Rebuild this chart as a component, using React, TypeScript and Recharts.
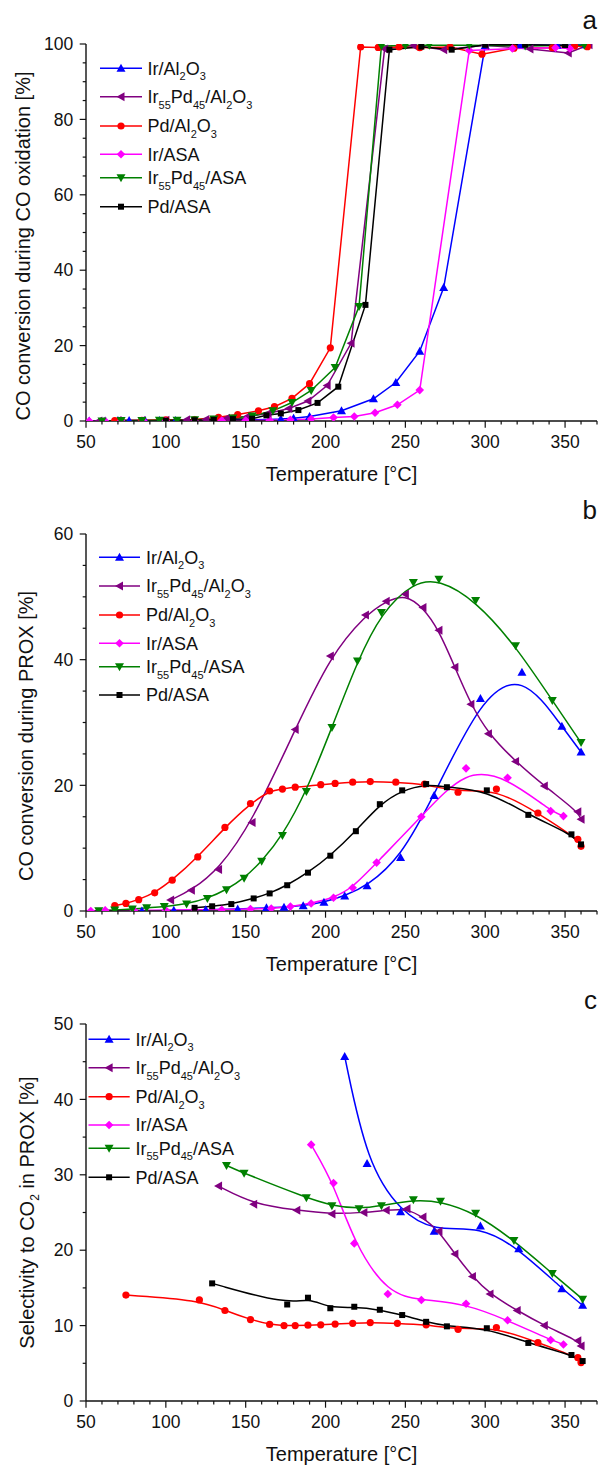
import React from "react";
import { LineChart, Line, XAxis, YAxis } from "recharts";

const FONT = "'Liberation Sans', Arial, sans-serif";
const W = 598;
const H = 490;
const INK = "#111";

const tempTicks = [50, 60, 70, 80, 90, 100, 110, 120, 130, 140, 150, 160, 170, 180, 190, 200, 210, 220, 230, 240, 250, 260, 270, 280, 290, 300, 310, 320, 330, 340, 350, 360, 370];
const ticksA = [0, 5, 10, 15, 20, 25, 30, 35, 40, 45, 50, 55, 60, 65, 70, 75, 80, 85, 90, 95, 100];
const ticksB = [0, 5, 10, 15, 20, 25, 30, 35, 40, 45, 50, 55, 60];
const ticksC = [0, 5, 10, 15, 20, 25, 30, 35, 40, 45, 50];

// --- a: CO oxidation ---
const aIrAlX = [52, 62, 70, 77, 87, 96, 106, 118, 130, 141, 153, 165, 172, 180, 190, 210, 230, 244, 259, 274, 300, 322, 345, 363];
const aIrAlY = [0, 0, 0.1, 0.1, 0.1, 0.1, 0.1, 0.2, 0.2, 0.3, 0.3, 0.4, 0.5, 0.7, 1.2, 2.7, 5.9, 10.2, 18.5, 35.4, 99.6, 99.8, 99.7, 99.8];
const aIrPdAlX = [58, 70, 85, 100, 113, 125, 138, 151, 164, 177, 189, 201, 216, 237, 255, 274, 300, 328, 352, 365];
const aIrPdAlY = [0, 0.1, 0.1, 0.2, 0.3, 0.4, 0.7, 1.2, 2.0, 3.3, 5.3, 9.4, 20.6, 98.7, 99.6, 98.5, 99.7, 98.7, 97.6, 99.8];
const aPdAlX = [68, 85, 100, 118, 133, 145, 158, 168, 179, 190, 203, 222, 233, 246, 259, 278, 298, 318, 342, 356, 364];
const aPdAlY = [0.1, 0.2, 0.3, 0.4, 1.0, 1.7, 2.7, 3.8, 6.0, 9.9, 19.4, 99.2, 99.1, 99.2, 99.0, 99.2, 97.3, 98.9, 99.0, 99.5, 99.3];
const aIrAsaX = [52, 62, 72, 86, 100, 118, 135, 150, 165, 178, 191, 205, 218, 231, 245, 259, 290, 317, 344, 353];
const aIrAsaY = [0, 0, 0, 0, 0, 0, 0.1, 0.1, 0.2, 0.3, 0.5, 0.9, 1.2, 2.2, 4.3, 8.2, 98.3, 98.8, 99.0, 98.8];
const aIrPdAsaX = [60, 72, 85, 96, 107, 118, 130, 142, 154, 167, 179, 191, 206, 221, 235, 250, 265, 290, 325, 362];
const aIrPdAsaY = [0, 0.1, 0.1, 0.2, 0.2, 0.3, 0.5, 0.8, 1.3, 2.7, 4.9, 8.1, 14.2, 30.4, 99.5, 99.6, 99.7, 99.7, 99.5, 99.7];
const aPdAsaX = [100, 118, 130, 142, 154, 163, 172, 183, 195, 208, 225, 240, 260, 279, 300, 325, 350];
const aPdAsaY = [0.1, 0.2, 0.3, 0.5, 0.6, 1.5, 2.0, 2.9, 4.8, 9.1, 30.8, 98.5, 99.3, 98.5, 99.8, 99.8, 99.7];

// --- b: CO conversion during PROX ---
const bIrAlX = [62, 85, 105, 125, 145, 163, 174, 186, 199, 212, 226, 247, 268, 297, 323, 348, 360];
const bIrAlY = [0, 0, 0.1, 0.2, 0.3, 0.5, 0.6, 0.85, 1.4, 2.4, 4.0, 8.5, 18.4, 33.8, 38.0, 29.4, 25.3];
const bIrPdAlX = [103, 116, 133, 154, 181, 203, 225, 238, 250, 261, 271, 281, 291, 302, 319, 337, 358, 360];
const bIrPdAlY = [1.75, 3.3, 6.6, 14.1, 28.9, 40.6, 47.1, 49.3, 50.4, 48.3, 44.7, 38.8, 32.9, 28.2, 23.8, 19.9, 15.8, 14.6];
const bPdAlX = [68, 75, 83, 93, 104, 120, 137, 153, 165, 173, 181, 197, 206, 217, 228, 244, 262, 283, 307, 333, 358, 360];
const bPdAlY = [0.85, 1.2, 1.8, 2.9, 4.9, 8.6, 13.3, 17.1, 19.1, 19.4, 19.7, 20.1, 20.3, 20.5, 20.6, 20.5, 20.2, 18.9, 19.4, 15.6, 11.4, 10.3];
const bIrAsaX = [53, 62, 80, 100, 118, 135, 153, 166, 178, 191, 205, 217, 232, 260, 288, 314, 341, 349];
const bIrAsaY = [0, 0.1, 0.1, 0.1, 0.2, 0.2, 0.3, 0.4, 0.7, 1.2, 2.1, 3.7, 7.7, 15.0, 22.7, 21.2, 15.9, 15.1];
const bIrPdAsaX = [58, 68, 79, 88, 99, 113, 126, 138, 149, 160, 173, 188, 204, 220, 235, 255, 271, 294, 319, 342, 360];
const bIrPdAsaY = [0.05, 0.15, 0.3, 0.5, 0.7, 1.1, 2.0, 3.4, 5.2, 7.9, 12.0, 19.0, 29.2, 39.8, 47.5, 52.3, 52.8, 49.4, 42.2, 33.5, 26.8];
const bPdAsaX = [118, 129, 141, 155, 165, 176, 189, 203, 219, 234, 248, 263, 276, 301, 327, 354, 360];
const bPdAsaY = [0.5, 0.75, 1.1, 2.0, 2.8, 4.1, 6.1, 8.8, 12.7, 17.0, 19.2, 20.2, 19.7, 19.2, 15.3, 12.2, 10.6];

// --- c: selectivity to CO2 ---
const cIrAlX = [212, 226, 247, 268, 297, 321, 348, 361];
const cIrAlY = [45.7, 31.5, 25.1, 22.5, 23.2, 20.2, 14.9, 12.7];
const cIrPdAlX = [133, 155, 182, 204, 224, 238, 251, 261, 271, 281, 292, 303, 320, 337, 358, 360];
const cIrPdAlY = [28.5, 26.1, 25.3, 24.8, 25.0, 25.3, 25.5, 24.4, 22.5, 19.5, 16.5, 14.2, 12.0, 10.0, 8.0, 7.3];
const cPdAlX = [75, 121, 137, 153, 165, 174, 181, 189, 197, 206, 217, 228, 245, 263, 283, 307, 333, 358, 360];
const cPdAlY = [14.05, 13.4, 12.0, 10.8, 10.15, 10.0, 10.0, 10.05, 10.1, 10.2, 10.3, 10.4, 10.3, 10.1, 9.5, 9.75, 7.75, 5.75, 5.1];
const cIrAsaX = [191, 205, 218, 239, 260, 288, 314, 341, 349];
const cIrAsaY = [34.0, 28.9, 20.9, 14.2, 13.4, 12.9, 10.7, 8.1, 7.5];
const cIrPdAsaX = [138, 149, 188, 204, 221, 235, 255, 272, 294, 318, 342, 361];
const cIrPdAsaY = [31.25, 30.2, 26.95, 25.9, 25.5, 25.9, 26.7, 26.5, 24.9, 21.3, 16.9, 13.5];
const cPdAsaX = [129, 176, 189, 203, 218, 234, 248, 263, 276, 301, 327, 354, 361];
const cPdAsaY = [15.6, 12.8, 13.7, 12.3, 12.5, 12.1, 11.4, 10.5, 9.9, 9.65, 7.7, 6.1, 5.3];

const names = ["Ir/Al2O3", "Ir55Pd45/Al2O3", "Pd/Al2O3", "Ir/ASA", "Ir55Pd45/ASA", "Pd/ASA"];
const colors = ["#0000ff", "#800080", "#ff0000", "#ff00ff", "#008000", "#000000"];
const shapes = ["up", "left", "circle", "diamond", "down", "square"];

// label pieces, s = subscript
const labelParts = [
  [{ t: "Ir/Al" }, { t: "2", s: 1 }, { t: "O" }, { t: "3", s: 1 }],
  [{ t: "Ir" }, { t: "55", s: 1 }, { t: "Pd" }, { t: "45", s: 1 }, { t: "/Al" }, { t: "2", s: 1 }, { t: "O" }, { t: "3", s: 1 }],
  [{ t: "Pd/Al" }, { t: "2", s: 1 }, { t: "O" }, { t: "3", s: 1 }],
  [{ t: "Ir/ASA" }],
  [{ t: "Ir" }, { t: "55", s: 1 }, { t: "Pd" }, { t: "45", s: 1 }, { t: "/ASA" }],
  [{ t: "Pd/ASA" }],
];

const zip = (xs: number[], ys: number[]) => xs.map((x, i) => ({ x, y: ys[i] }));

function Marker({ shape, color, cx, cy }: any) {
  const s = 4.5;
  switch (shape) {
    case "up":
      return <polygon points={`${cx},${cy - s} ${cx - s},${cy + 3.5} ${cx + s},${cy + 3.5}`} fill={color} />;
    case "down":
      return <polygon points={`${cx},${cy + s} ${cx - s},${cy - 3.5} ${cx + s},${cy - 3.5}`} fill={color} />;
    case "left":
      return <polygon points={`${cx - s},${cy} ${cx + 3.5},${cy - s} ${cx + 3.5},${cy + s}`} fill={color} />;
    case "circle":
      return <circle cx={cx} cy={cy} r={3.6} fill={color} />;
    case "diamond":
      return <polygon points={`${cx},${cy - 4.3} ${cx + 4.3},${cy} ${cx},${cy + 4.3} ${cx - 4.3},${cy}`} fill={color} />;
    default:
      return <rect x={cx - 3} y={cy - 3} width={6} height={6} fill={color} />;
  }
}

const dotFor = (shape: string, color: string) => (p: any) => {
  if (p.cx == null || p.cy == null) return <g key={p.index} />;
  return (
    <g key={p.index}>
      <Marker shape={shape} color={color} cx={p.cx} cy={p.cy} />
    </g>
  );
};

const bottomTick = (p: any) => {
  const v = p.payload.value;
  const major = v % 50 === 0;
  return (
    <g>
      <line x1={p.x} y1={p.y} x2={p.x} y2={p.y + (major ? 6.7 : 3.6)} stroke={INK} strokeWidth={1.2} />
      {major && (
        <text x={p.x} y={p.y + 26.5} textAnchor="middle" fontSize={17.5} fontFamily={FONT} fill={INK}>
          {v}
        </text>
      )}
    </g>
  );
};

const topTick = (p: any) => {
  const major = p.payload.value % 50 === 0;
  return <line x1={p.x} y1={p.y} x2={p.x} y2={p.y - (major ? 6.7 : 3.6)} stroke={INK} strokeWidth={1.2} />;
};

const leftTick = (step: number) => (p: any) => {
  const v = p.payload.value;
  const major = v % step === 0;
  return (
    <g>
      <line x1={p.x} y1={p.y} x2={p.x - (major ? 6.3 : 3.3)} y2={p.y} stroke={INK} strokeWidth={1.2} />
      {major && (
        <text x={p.x - 12.7} y={p.y + 6.2} textAnchor="end" fontSize={17.5} fontFamily={FONT} fill={INK}>
          {v}
        </text>
      )}
    </g>
  );
};

const rightTick = (step: number) => (p: any) => {
  const major = p.payload.value % step === 0;
  return <line x1={p.x} y1={p.y} x2={p.x - (major ? 6.3 : 3.3)} y2={p.y} stroke={INK} strokeWidth={1.2} />;
};

function Label({ parts, x, y, size }: any) {
  const sub = Math.round(size * 0.6);
  let shifted = false;
  return (
    <text x={x} y={y} fontSize={size} fontFamily={FONT} fill={INK}>
      {parts.map((pt: any, i: number) => {
        let dy = 0;
        if (pt.s && !shifted) { dy = size * 0.3; shifted = true; }
        else if (!pt.s && shifted) { dy = -size * 0.3; shifted = false; }
        return (
          <tspan key={i} dy={dy} fontSize={pt.s ? sub : size}>
            {pt.t}
          </tspan>
        );
      })}
    </text>
  );
}

function Panel(props: any) {
  const { top, data, yMax, yTicks, yStep, curve, legend, letter, yTitle, yTitleX, yTitleY } = props;
  const axisLine = { stroke: INK, strokeWidth: 1.4 };
  return (
    <div style={{ position: "absolute", left: 0, top, width: W, height: H }}>
      <LineChart width={W} height={H} margin={{ top: 44, right: 1, bottom: 19, left: 0 }}>
        <XAxis xAxisId="b" type="number" dataKey="x" domain={[50, 370]} ticks={tempTicks} interval={0}
          tickSize={0} tickMargin={0} tickLine={false} tick={bottomTick} axisLine={axisLine} height={50} allowDataOverflow />
        <XAxis xAxisId="t" orientation="top" type="number" dataKey="x" domain={[50, 370]} ticks={tempTicks} interval={0}
          tickSize={0} tickMargin={0} tickLine={false} tick={topTick} axisLine={axisLine} height={0} allowDataOverflow />
        <YAxis yAxisId="l" type="number" domain={[0, yMax]} ticks={yTicks} interval={0} tickSize={0} tickMargin={0}
          tickLine={false} tick={leftTick(yStep)} axisLine={axisLine} width={86} allowDataOverflow />
        <YAxis yAxisId="r" orientation="right" type="number" domain={[0, yMax]} ticks={yTicks} interval={0} tickSize={0}
          tickMargin={0} tickLine={false} tick={rightTick(yStep)} axisLine={axisLine} width={0} allowDataOverflow />
        {data.map((pts: any, i: number) => (
          <Line key={names[i]} xAxisId="b" yAxisId="l" data={pts} dataKey="y" type={curve} stroke={colors[i]}
            strokeWidth={1.5} dot={dotFor(shapes[i], colors[i])} activeDot={false} isAnimationActive={false} />
        ))}
      </LineChart>
      <svg width={W} height={H} style={{ position: "absolute", left: 0, top: 0, pointerEvents: "none" }}>
        {legend.rows.map((ry: number, i: number) => (
          <g key={i}>
            <line x1={legend.x1} y1={ry} x2={legend.x2} y2={ry} stroke={colors[i]} strokeWidth={1.5} />
            <Marker shape={shapes[i]} color={colors[i]} cx={(legend.x1 + legend.x2) / 2} cy={ry} />
            <Label parts={labelParts[i]} x={legend.tx} y={ry + 6.4} size={18} />
          </g>
        ))}
        <text x={597} y={29} textAnchor="end" fontSize={26} fontFamily={FONT} fill={INK}>{letter}</text>
        <text x={341.5} y={481} textAnchor="middle" fontSize={20} fontFamily={FONT} fill={INK}>Temperature [°C]</text>
        <g transform={`translate(${yTitleX},${yTitleY}) rotate(-90)`}>
          <text x={0} y={0} textAnchor="middle" fontSize={20} fontFamily={FONT} fill={INK}>
            {yTitle}
          </text>
        </g>
      </svg>
    </div>
  );
}

export default function App() {
  const dataA = [zip(aIrAlX, aIrAlY), zip(aIrPdAlX, aIrPdAlY), zip(aPdAlX, aPdAlY), zip(aIrAsaX, aIrAsaY), zip(aIrPdAsaX, aIrPdAsaY), zip(aPdAsaX, aPdAsaY)];
  const dataB = [zip(bIrAlX, bIrAlY), zip(bIrPdAlX, bIrPdAlY), zip(bPdAlX, bPdAlY), zip(bIrAsaX, bIrAsaY), zip(bIrPdAsaX, bIrPdAsaY), zip(bPdAsaX, bPdAsaY)];
  const dataC = [zip(cIrAlX, cIrAlY), zip(cIrPdAlX, cIrPdAlY), zip(cPdAlX, cPdAlY), zip(cIrAsaX, cIrAsaY), zip(cIrPdAsaX, cIrPdAsaY), zip(cPdAsaX, cPdAsaY)];
  return (
    <div style={{ position: "absolute", left: 0, top: 0, width: 598, height: 1467, background: "#fff" }}>
      <Panel top={0} data={dataA} yMax={100} yTicks={ticksA} yStep={20} curve="linear" letter="a"
        legend={{ x1: 100, x2: 142, tx: 147.6, rows: [68.3, 96.7, 126, 154.3, 177.7, 206.7] }}
        yTitle="CO conversion during CO oxidation [%]" yTitleX={29.5} yTitleY={246} />
      <Panel top={490} data={dataB} yMax={60} yTicks={ticksB} yStep={20} curve="basis" letter="b"
        legend={{ x1: 99, x2: 140, tx: 146, rows: [67.3, 96, 125, 153.3, 176.7, 205] }}
        yTitle="CO conversion during PROX [%]" yTitleX={32.5} yTitleY={246} />
      <Panel top={980} data={dataC} yMax={50} yTicks={ticksC} yStep={10} curve="basis" letter="c"
        legend={{ x1: 88.5, x2: 129.7, tx: 135.4, rows: [59.3, 87.7, 116.7, 145, 168.3, 197.3] }}
        yTitle={<>Selectivity to CO<tspan dy={5} fontSize={12}>2</tspan><tspan dy={-5}> in PROX [%]</tspan></>}
        yTitleX={33.5} yTitleY={232.5} />
    </div>
  );
}
